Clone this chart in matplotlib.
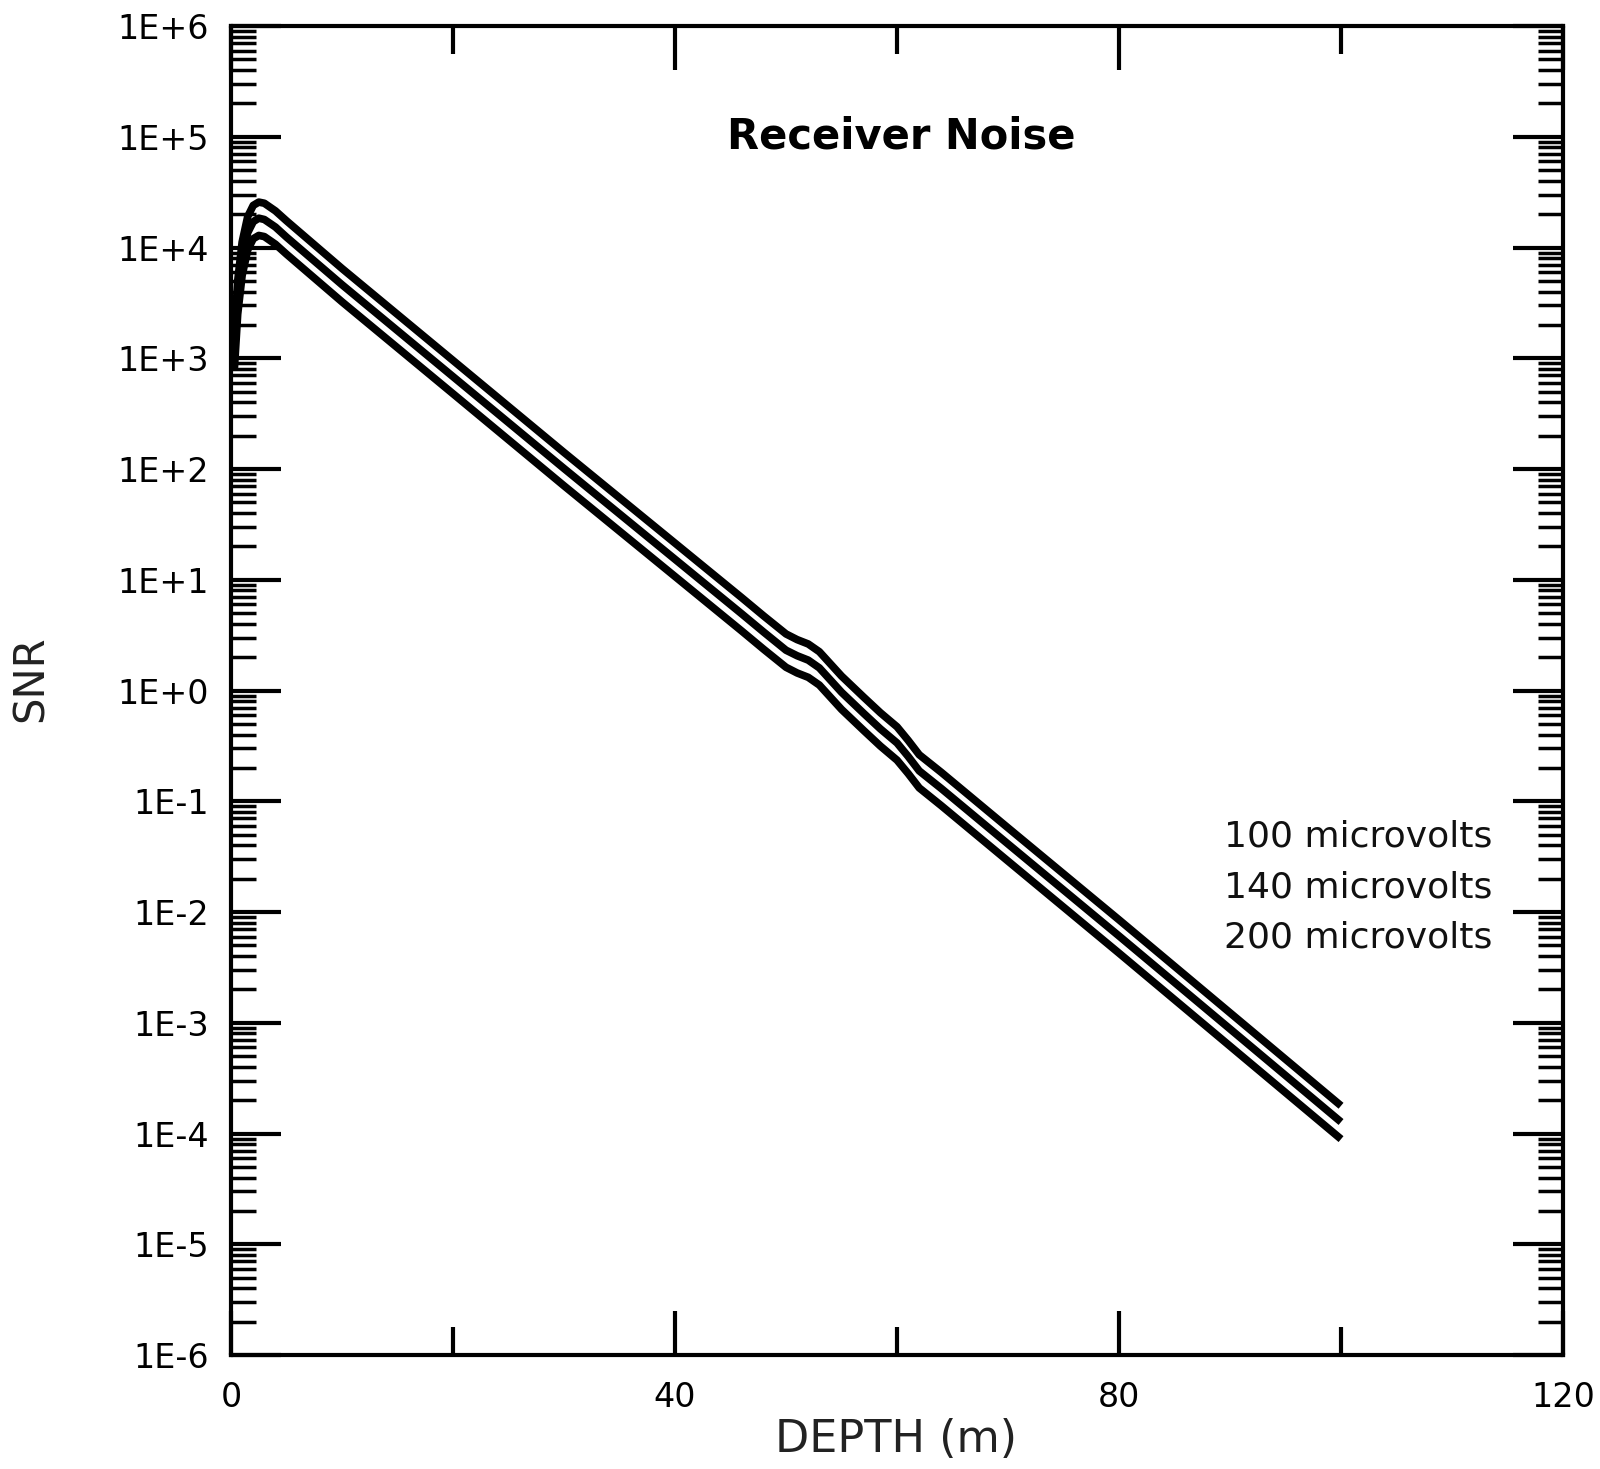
import numpy as np
import matplotlib
matplotlib.use("Agg")
import matplotlib.pyplot as plt
from matplotlib.ticker import LogLocator, FixedLocator, FuncFormatter, NullFormatter

# depth (m) and signal-to-noise ratio for three receiver noise levels
depth = [0.3, 0.6, 1.0, 1.5, 2.0, 2.5, 3.0, 4.0, 5.0, 10, 20, 30, 40, 46, 48,
         50, 51, 52, 53, 55, 57, 58.5, 60, 61, 62, 64, 70, 80, 90, 100]

snr_100uv = [1.6e3, 5.0e3, 1.12e4, 1.9e4, 2.4e4, 2.57e4, 2.51e4, 2.14e4, 1.74e4,
             6.46e3, 955, 141, 21.4, 6.9, 4.7, 3.24, 2.88, 2.63, 2.24, 1.35,
             0.87, 0.63, 0.47, 0.355, 0.263, 0.182, 0.0575, 8.5e-3, 1.23e-3, 1.78e-4]

snr_140uv = [1.14e3, 3.57e3, 8.0e3, 1.36e4, 1.71e4, 1.84e4, 1.79e4, 1.53e4, 1.24e4,
             4.61e3, 682, 101, 15.3, 4.93, 3.36, 2.31, 2.06, 1.88, 1.60, 0.964,
             0.621, 0.45, 0.336, 0.254, 0.188, 0.13, 0.0411, 6.07e-3, 8.79e-4, 1.27e-4]

snr_200uv = [800, 2500, 5600, 9500, 1.2e4, 1.285e4, 1.255e4, 1.07e4, 8700,
             3230, 478, 70.5, 10.7, 3.45, 2.35, 1.62, 1.44, 1.315, 1.12, 0.675,
             0.435, 0.315, 0.235, 0.178, 0.132, 0.091, 0.0288, 4.25e-3, 6.15e-4, 8.9e-5]

labels = ["100 microvolts", "140 microvolts", "200 microvolts"]

fig = plt.figure(figsize=(16, 14.69), dpi=100)
ax = fig.add_axes([0.1444, 0.0776, 0.8325, 0.9047])

for s in (snr_100uv, snr_140uv, snr_200uv):
    ax.plot(depth, s, color="black", lw=5.5, solid_capstyle="butt",
            solid_joinstyle="round")

ax.set_yscale("log")
ax.set_xlim(0, 120)
ax.set_ylim(1e-6, 1e6)

for sp in ax.spines.values():
    sp.set_linewidth(3)

ax.yaxis.set_major_locator(LogLocator(base=10, numticks=20))
ax.yaxis.set_minor_locator(LogLocator(base=10, subs=np.arange(2, 10), numticks=20))
ax.yaxis.set_minor_formatter(NullFormatter())
ax.yaxis.set_major_formatter(FuncFormatter(lambda v, p: "1E%+d" % int(round(np.log10(v)))))

ax.xaxis.set_major_locator(FixedLocator([0, 40, 80, 120]))
ax.xaxis.set_minor_locator(FixedLocator([20, 60, 100]))

ax.tick_params(axis="y", which="major", direction="in", length=36, width=3,
               left=True, right=True, labelsize=24, pad=16)
ax.tick_params(axis="y", which="minor", direction="in", length=18, width=2.5,
               left=True, right=True)
ax.tick_params(axis="x", which="major", direction="in", length=32, width=3,
               top=True, bottom=True, labelsize=24, pad=19)
ax.tick_params(axis="x", which="minor", direction="in", length=20, width=3,
               top=True, bottom=True)

ax.text(0.503, 0.917, "Receiver Noise", transform=ax.transAxes, ha="center",
        va="center", fontsize=30, fontweight="bold")

for lab, yy in zip(labels, [0.3898, 0.3514, 0.3145]):
    ax.text(0.947, yy, lab, transform=ax.transAxes, ha="right", va="center",
            fontsize=26, color="#111111")

fig.text(0.56, 0.02, "DEPTH (m)", ha="center", va="center", fontsize=32,
         color="#222222")
fig.text(0.0195, 0.538, "SNR", ha="center", va="center", rotation=90,
         fontsize=30, color="#222222")

fig.savefig("out.png", dpi=100, facecolor="white")
